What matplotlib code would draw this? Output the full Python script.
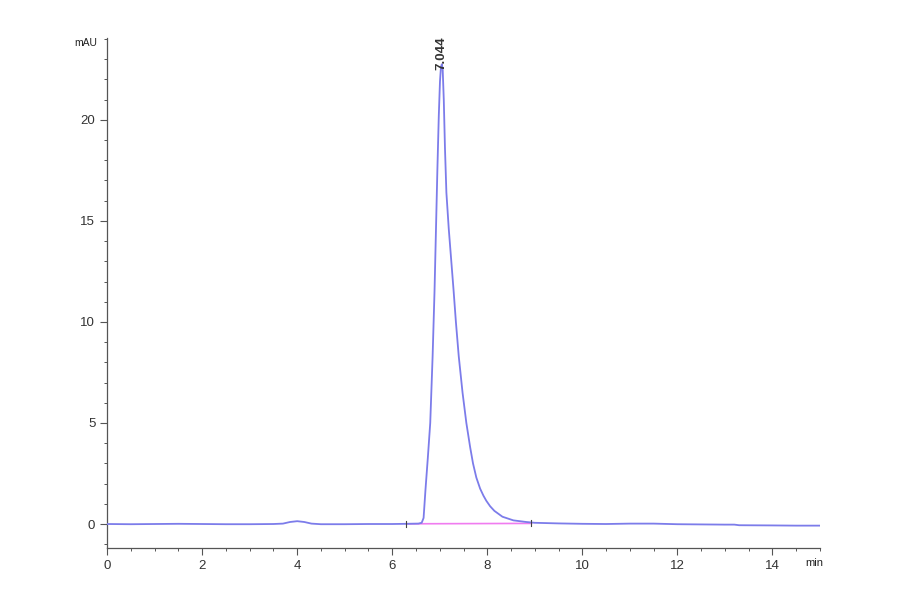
"""HPLC chromatogram, single peak at 7.044 min."""

import matplotlib
matplotlib.use("Agg")
import matplotlib.pyplot as plt
from matplotlib.ticker import MultipleLocator

TRACE, BASE = "#7c7cea", "#f07cf0"
INK, MUTED = "#222222", "#555555"

# trace (min, mAU)
time = [0.0, 0.5, 1.0, 1.5, 2.0, 2.5, 3.0, 3.5, 3.7, 3.85, 4.0, 4.15, 4.3,
        4.5, 5.0, 5.5, 6.0, 6.3, 6.55, 6.62, 6.66, 6.70, 6.75, 6.80, 6.85,
        6.89, 6.92, 6.95, 6.98, 7.005, 7.025, 7.044, 7.062, 7.085, 7.11,
        7.14, 7.19, 7.24, 7.29, 7.34, 7.40, 7.48, 7.56, 7.64, 7.70, 7.77,
        7.85, 7.92, 7.98, 8.06, 8.15, 8.32, 8.55, 8.82, 9.0, 9.5, 10.0, 10.5,
        11.0, 11.5, 12.0, 12.5, 13.0, 13.2, 13.3, 14.0, 14.5, 15.0]
mau = [0.00, -0.01, 0.00, 0.01, 0.00, -0.01, -0.01, 0.00, 0.02, 0.10, 0.14,
       0.10, 0.02, -0.01, -0.01, 0.00, 0.00, 0.01, 0.02, 0.06, 0.3, 1.7, 3.3,
       5.0, 8.3, 11.5, 14.5, 17.5, 20.2, 21.9, 22.6, 22.75, 22.5, 21.0,
       18.6, 16.4, 14.6, 13.1, 11.6, 10.0, 8.3, 6.5, 5.0, 3.8, 3.0, 2.3,
       1.75, 1.4, 1.15, 0.88, 0.65, 0.36, 0.18, 0.10, 0.06, 0.03, 0.01, 0.00,
       0.02, 0.02, -0.01, -0.02, -0.03, -0.03, -0.06, -0.07, -0.08, -0.08]

# integration baseline of the peak
base_t = [6.30, 8.93]
base_v = [0.01, 0.03]
peak_t, peak_v, peak_label = 7.044, 22.75, "7.044"

plt.rcParams.update({
    "font.family": "Liberation Sans", "font.size": 9,
    "axes.edgecolor": MUTED, "xtick.color": MUTED, "ytick.color": MUTED,
    "text.color": INK,
})

fig = plt.figure(figsize=(9, 5.94), dpi=100)
ax = fig.add_axes([0.119, 0.077, 0.792, 0.859])
ax.plot(time, mau, color=TRACE, lw=1.3, zorder=3)
ax.plot(base_t, base_v, color=BASE, lw=1.2, zorder=2)
for t, v in zip(base_t, base_v):
    ax.plot([t, t], [v - 0.15, v + 0.15], color="#444444", lw=0.8, zorder=4)

ax.text(peak_t, peak_v - 0.3, peak_label, rotation=90, ha="center",
        va="bottom", fontsize=9.5, fontweight="bold", color="#333333", zorder=5)

ax.set_xlim(0, 15)
ax.set_ylim(-1.2, 24.05)
ax.xaxis.set_major_locator(MultipleLocator(2))
ax.xaxis.set_minor_locator(MultipleLocator(0.5))
ax.yaxis.set_major_locator(MultipleLocator(5))
ax.yaxis.set_minor_locator(MultipleLocator(1))
ax.tick_params(which="major", length=5, width=0.8, labelsize=9.5, labelcolor="#333333")
ax.tick_params(which="minor", length=2.5, width=0.7)
ax.spines[["top", "right"]].set_visible(False)
ax.spines[["left", "bottom"]].set_linewidth(0.9)

ax.text(-0.014, 23.8, "mAU", transform=ax.get_yaxis_transform(),
        ha="right", va="center", fontsize=7.5, color=INK)
ax.text(14.7, -0.02, "min", transform=ax.get_xaxis_transform(),
        ha="left", va="top", fontsize=8, color=INK)

fig.savefig("out.png", dpi=100)
